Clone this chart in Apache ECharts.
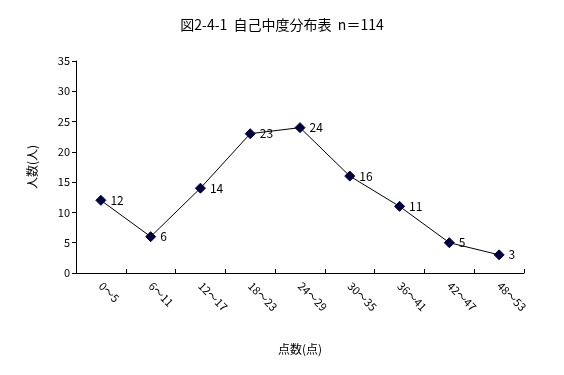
<!DOCTYPE html>
<html><head><meta charset="utf-8">
<script src="https://cdn.jsdelivr.net/npm/echarts@6/dist/echarts.min.js"></script>
<style>html,body{margin:0;padding:0;background:#fff}#c{width:564px;height:375px}</style>
</head><body><div id="c"></div>
<script>
const categories = ["0～5","6～11","12～17","18～23","24～29","30～35","36～41","42～47","48～53"];
const counts = [12,6,14,23,24,16,11,5,3];
const yTicks = {min:0, max:35, interval:5};
const titleText = "図2-4-1  自己中度分布表  n＝114";
const xName = "点数(点)";
const yName = "人数(人)";

const font = "'Noto Sans CJK JP', 'DejaVu Sans', sans-serif";
const chart = echarts.init(document.getElementById('c'), null, {renderer:'canvas'});
chart.setOption({
  animation:false,
  backgroundColor:'#fff',
  textStyle:{fontFamily:font},
  title:{text:titleText,left:'center',top:13,textStyle:{fontSize:14,fontWeight:'normal',color:'#000',fontFamily:font}},
  grid:{left:76,right:40,top:61,bottom:102,containLabel:false},
  xAxis:{
    type:'category',data:categories,boundaryGap:true,
    name:xName,nameLocation:'middle',nameGap:70,
    nameTextStyle:{fontSize:12,color:'#000',fontFamily:font},
    axisLine:{lineStyle:{color:'#000',width:1}},
    axisTick:{show:true,alignWithLabel:false,length:4,inside:true,lineStyle:{color:'#000'}},
    axisLabel:{rotate:-45,fontSize:11,color:'#000',margin:11,interval:0,fontFamily:font},
    splitLine:{show:false}
  },
  yAxis:{
    type:'value',min:yTicks.min,max:yTicks.max,interval:yTicks.interval,
    name:yName,nameLocation:'middle',nameGap:38,nameRotate:90,
    nameTextStyle:{fontSize:12,color:'#000',fontFamily:font},
    axisLine:{show:true,lineStyle:{color:'#000',width:1}},
    axisTick:{show:true,length:4,lineStyle:{color:'#000'}},
    axisLabel:{fontSize:11,color:'#000',margin:6,fontFamily:font},
    splitLine:{show:false}
  },
  series:[{
    type:'line',data:counts,
    symbol:'diamond',symbolSize:10,
    lineStyle:{color:'#000',width:1},
    itemStyle:{color:'#000040',borderColor:'#000040'},
    label:{show:true,position:'right',distance:4,fontSize:12,color:'#000',fontFamily:font}
  }]
});
</script></body></html>
